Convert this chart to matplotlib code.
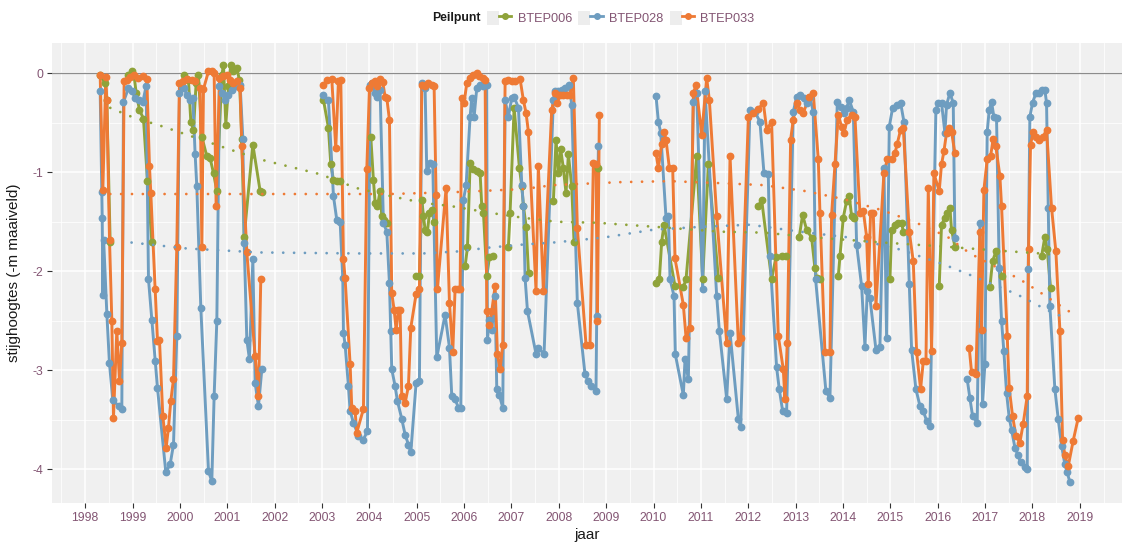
import numpy as np
import matplotlib
matplotlib.use("Agg")
import matplotlib.pyplot as plt
from matplotlib.lines import Line2D
from matplotlib.patches import Patch
from matplotlib.legend_handler import HandlerTuple

plt.rcParams['font.family'] = ['Liberation Sans', 'DejaVu Sans']
plt.rcParams['axes.unicode_minus'] = False

nan = np.nan

# --- data: jaar (decimal year) and stijghoogte (m t.o.v. maaiveld) ---
btep006_jaar = [
    1998.317, 1998.422, 1998.457, 1998.528, nan,
    1998.915, 1998.985, 1999.034, 1999.077, 1999.147, 1999.231, 1999.316, 1999.407, nan,
    2000.090, 2000.181, 2000.231, 2000.287, 2000.343, 2000.392, 2000.463, 2000.569, 2000.639,
    2000.710, 2000.780, 2000.885, 2000.920, 2000.970, 2001.026, 2001.075, 2001.131, 2001.202,
    2001.258, 2001.307, 2001.357, 2001.540, 2001.694, 2001.730, nan,
    2003.031, 2003.136, 2003.186, 2003.242, 2003.312, 2003.383, nan,
    2004.030, 2004.086, 2004.122, 2004.171, 2004.227, 2004.262, 2004.319, 2004.368, nan,
    2004.987, 2005.057, 2005.107, 2005.142, 2005.177, 2005.226, 2005.269, 2005.318, 2005.367, nan,
    2006.021, 2006.071, 2006.127, 2006.198, 2006.268, 2006.338, 2006.373, 2006.409, 2006.479,
    2006.535, 2006.620, nan,
    2006.936, 2006.971, 2007.056, 2007.169, 2007.218, 2007.253, 2007.310, 2007.360, nan,
    2007.885, 2007.941, 2007.990, 2008.040, 2008.096, 2008.152, 2008.202, 2008.272, 2008.321, nan,
    2008.835, nan,
    2010.052, 2010.123, 2010.172, 2010.221, 2010.453, 2010.629, 2010.686, 2010.911, 2011.037,
    2011.157, 2011.368, nan,
    2012.213, 2012.283, 2012.492, 2012.584, 2012.704, 2012.795, nan,
    2013.077, 2013.147, 2013.231, 2013.337, 2013.407, 2013.442, 2013.513, nan,
    2013.900, 2013.935, 2014.005, 2014.076, 2014.132, 2014.181, 2014.231, nan,
    2014.991, 2015.026, 2015.096, 2015.167, 2015.237, 2015.272, nan,
    2016.031, 2016.080, 2016.151, 2016.200, 2016.256, 2016.291, 2016.362, nan,
    2017.101, 2017.157, 2017.227, 2017.347, nan,
    2018.192, 2018.262, 2018.311, 2018.382,
]
btep006_stijg = [
    -0.02, -0.10, -0.27, -1.70, nan,
    -0.02, 0.02, -0.03, -0.20, -0.37, -0.46, -1.09, -1.70, nan,
    -0.02, -0.07, -0.49, -0.57, -0.10, -0.02, -0.64, -0.84, -0.86,
    -1.01, -1.19, -0.02, 0.08, -0.52, -0.13, 0.08, 0.02, 0.05,
    -0.07, -0.66, -1.65, -0.72, -1.19, -1.20, nan,
    -0.27, -0.55, -0.92, -1.08, -1.09, -1.09, nan,
    -0.64, -1.08, -1.31, -1.34, -1.19, -1.44, -1.48, -1.51, nan,
    -2.05, -2.05, -1.28, -1.44, -1.58, -1.60, -1.41, -1.38, -1.50, nan,
    -1.95, -1.76, -0.91, -0.97, -0.99, -1.01, -1.34, -1.41, -2.05,
    -1.86, -1.85, nan,
    -1.75, -1.41, -0.35, -0.96, -1.14, -1.34, -1.55, -2.02, nan,
    -1.29, -0.67, -1.01, -0.77, -0.96, -1.21, -0.82, -1.14, -1.70, nan,
    -0.96, nan,
    -2.12, -2.08, -1.70, -1.53, -2.15, -2.16, -2.08, -0.84, -2.08,
    -0.92, -2.07, nan,
    -1.34, -1.28, -2.08, -1.86, -1.85, -1.85, nan,
    -1.65, -1.43, -1.58, -1.66, -1.97, -2.07, -2.08, nan,
    -2.05, -1.85, -1.46, -1.29, -1.24, -1.44, -1.46, nan,
    -2.08, -1.58, -1.53, -1.51, -1.51, -1.60, nan,
    -2.15, -1.53, -1.46, -1.41, -1.36, -1.58, -1.75, nan,
    -2.16, -1.90, -1.80, -2.05, nan,
    -1.85, -1.65, -1.78, -2.17,
]

btep028_jaar = [
    1998.317, 1998.350, 1998.360, 1998.374, 1998.390, 1998.458, 1998.513, 1998.584, 1998.704,
    1998.774, 1998.809, 1998.915, 1998.985, 1999.056, 1999.147, 1999.217, 1999.288, 1999.337,
    1999.407, 1999.478, 1999.527, 1999.703, 1999.794, 1999.865, 1999.935, 1999.991, 2000.041,
    2000.090, 2000.146, 2000.217, 2000.273, 2000.322, 2000.357, 2000.442, 2000.604, 2000.674,
    2000.723, 2000.780, 2000.836, 2000.885, 2000.956, 2001.026, 2001.096, 2001.188, 2001.272,
    2001.329, 2001.357, 2001.413, 2001.469, 2001.540, 2001.589, 2001.659, 2001.730, nan,
    2003.031, 2003.136, 2003.242, 2003.312, 2003.383, 2003.439, 2003.453, 2003.488, 2003.558,
    2003.594, 2003.664, 2003.770, 2003.875, 2003.960, 2004.016, 2004.051, 2004.122, 2004.171,
    2004.227, 2004.297, 2004.368, 2004.424, 2004.452, 2004.473, 2004.544, 2004.593, 2004.684,
    2004.755, 2004.825, 2004.875, 2004.987, 2005.057, 2005.107, 2005.177, 2005.212, 2005.283,
    2005.339, 2005.423, 2005.599, 2005.691, 2005.740, 2005.810, 2005.881, 2005.930, 2005.986,
    2006.043, 2006.127, 2006.162, 2006.212, 2006.268, 2006.338, 2006.409, 2006.479, 2006.493,
    2006.535, 2006.585, 2006.655, 2006.690, 2006.746, 2006.817, 2006.866, 2006.936, 2007.007,
    2007.056, 2007.148, 2007.218, 2007.253, 2007.288, 2007.338, 2007.521, 2007.568, 2007.688,
    2007.885, 2007.920, 2007.990, 2008.061, 2008.131, 2008.223, 2008.272, 2008.391, 2008.553,
    2008.624, 2008.673, 2008.785, 2008.800, 2008.835, nan,
    2010.052, 2010.102, 2010.151, 2010.263, 2010.313, 2010.348, 2010.432, 2010.460, 2010.629,
    2010.664, 2010.735, 2010.840, 2010.911, 2011.037, 2011.087, 2011.333, 2011.389, 2011.544,
    2011.615, 2011.790, 2011.840, 2012.035, 2012.141, 2012.246, 2012.331, 2012.422, 2012.457,
    2012.598, 2012.654, 2012.725, 2012.809, 2012.950, 2013.020, 2013.091, 2013.175, 2013.231,
    2013.302, 2013.372, 2013.421, 2013.639, 2013.724, 2013.879, 2013.949, 2014.020, 2014.076,
    2014.132, 2014.217, 2014.287, 2014.393, 2014.463, 2014.512, 2014.568, 2014.695, 2014.779,
    2014.864, 2014.920, 2014.977, 2015.047, 2015.131, 2015.216, 2015.286, 2015.399, 2015.448,
    2015.539, 2015.624, 2015.694, 2015.765, 2015.835, 2015.961, 2016.010, 2016.080, 2016.151,
    2016.186, 2016.256, 2016.327, 2016.362, nan,
    2016.622, 2016.678, 2016.735, 2016.833, 2016.890, 2016.946, 2016.995, 2017.044, 2017.087,
    2017.136, 2017.185, 2017.241, 2017.298, 2017.347, 2017.396, 2017.453, 2017.509, 2017.558,
    2017.629, 2017.699, 2017.748, 2017.840, 2017.889, 2017.910, 2017.945, 2018.001, 2018.072,
    2018.142, 2018.192, 2018.262, 2018.297, 2018.332, 2018.367, 2018.473, 2018.543, 2018.614,
    2018.684, 2018.733, 2018.790,
]
btep028_stijg = [
    -0.18, -1.20, -1.46, -2.24, -1.68, -2.43, -2.93, -3.30, -3.36,
    -3.39, -0.29, -0.15, -0.18, -0.25, -0.27, -0.29, -0.13, -2.08,
    -2.49, -2.91, -3.18, -4.03, -3.95, -3.75, -2.65, -0.20, -0.13,
    -0.15, -0.22, -0.27, -0.25, -0.82, -1.14, -2.37, -4.02, -4.12,
    -3.26, -2.50, -0.13, -0.20, -0.27, -0.22, -0.17, -0.13, -0.12,
    -0.66, -1.71, -2.69, -2.89, -1.88, -3.13, -3.36, -2.99, nan,
    -0.22, -0.27, -1.24, -1.48, -1.50, -2.07, -2.62, -2.74, -3.16,
    -3.41, -3.53, -3.66, -3.70, -3.61, -0.12, -0.10, -0.20, -0.24,
    -0.17, -1.51, -1.60, -2.12, -2.60, -2.99, -3.16, -3.31, -3.49,
    -3.65, -3.75, -3.83, -3.13, -3.11, -0.10, -0.15, -0.99, -0.91,
    -0.92, -2.87, -2.44, -2.77, -3.26, -3.29, -3.38, -3.38, -1.28,
    -1.13, -0.44, -0.25, -0.44, -0.15, -0.12, -0.13, -0.12, -2.69,
    -2.49, -2.59, -2.25, -3.19, -3.25, -3.38, -0.27, -0.44, -0.25,
    -0.24, -0.35, -1.13, -1.34, -2.07, -2.40, -2.84, -2.77, -2.84,
    -0.27, -0.18, -0.18, -0.17, -0.15, -0.12, -0.32, -2.32, -3.04,
    -3.11, -3.16, -3.21, -2.45, -0.74, nan,
    -0.23, -0.49, -0.60, -1.46, -1.44, -2.08, -2.25, -2.84, -3.25,
    -2.89, -3.09, -0.29, -0.20, -2.18, -0.18, -2.25, -2.60, -3.29,
    -2.62, -3.49, -3.57, -0.37, -0.39, -0.49, -1.01, -1.02, -1.85,
    -2.97, -3.19, -3.41, -3.43, -0.39, -0.24, -0.22, -0.25, -0.30,
    -0.24, -0.39, -2.08, -3.21, -3.28, -0.29, -0.34, -0.40, -0.35,
    -0.27, -0.39, -1.73, -2.15, -2.76, -2.20, -2.27, -2.79, -2.76,
    -0.96, -2.67, -0.54, -0.35, -0.32, -0.30, -0.49, -2.13, -2.79,
    -3.19, -3.36, -3.41, -3.51, -3.56, -0.37, -0.30, -0.30, -0.60,
    -0.32, -0.20, -0.30, -1.66, nan,
    -3.09, -3.28, -3.46, -3.53, -1.51, -3.34, -2.94, -0.59, -0.37,
    -0.29, -0.44, -0.45, -1.97, -2.50, -2.81, -3.23, -3.48, -3.60,
    -3.78, -3.86, -3.93, -3.98, -4.00, -1.98, -0.44, -0.30, -0.20,
    -0.20, -0.17, -0.17, -0.30, -1.36, -2.35, -3.19, -3.49, -3.76,
    -3.95, -4.03, -4.13,
]

btep033_jaar = [
    1998.317, 1998.373, 1998.436, 1998.457, 1998.514, 1998.563, 1998.598, 1998.668, 1998.725,
    1998.774, 1998.823, 1998.879, 1998.950, 1999.034, 1999.126, 1999.231, 1999.302, 1999.358,
    1999.386, 1999.478, 1999.527, 1999.569, 1999.639, 1999.710, 1999.759, 1999.808, 1999.865,
    1999.935, 1999.991, 2000.076, 2000.146, 2000.252, 2000.322, 2000.428, 2000.463, 2000.498,
    2000.604, 2000.674, 2000.723, 2000.765, 2000.836, 2000.906, 2000.991, 2001.061, 2001.131,
    2001.202, 2001.272, 2001.307, 2001.413, 2001.589, 2001.659, 2001.708, nan,
    2003.031, 2003.115, 2003.207, 2003.291, 2003.347, 2003.397, 2003.453, 2003.488, 2003.594,
    2003.629, 2003.699, 2003.734, 2003.875, 2003.946, 2004.002, 2004.051, 2004.122, 2004.171,
    2004.227, 2004.283, 2004.333, 2004.368, 2004.424, 2004.473, 2004.523, 2004.565, 2004.614,
    2004.649, 2004.684, 2004.755, 2004.825, 2004.875, 2004.987, 2005.057, 2005.107, 2005.177,
    2005.247, 2005.318, 2005.367, 2005.409, 2005.437, 2005.620, 2005.691, 2005.761, 2005.810,
    2005.881, 2005.916, 2005.951, 2006.000, 2006.057, 2006.127, 2006.198, 2006.268, 2006.324,
    2006.395, 2006.444, 2006.479, 2006.535, 2006.585, 2006.655, 2006.704, 2006.761, 2006.817,
    2006.866, 2006.936, 2007.007, 2007.077, 2007.183, 2007.251, 2007.308, 2007.357, 2007.519,
    2007.568, 2007.674, 2007.850, 2007.920, 2007.969, 2008.025, 2008.096, 2008.166, 2008.237,
    2008.307, 2008.391, 2008.574, 2008.659, 2008.729, 2008.785, 2008.814, 2008.856, nan,
    2010.052, 2010.102, 2010.172, 2010.221, 2010.263, 2010.334, 2010.404, 2010.453, 2010.629,
    2010.686, 2010.770, 2010.840, 2010.897, 2011.016, 2011.122, 2011.178, 2011.333, 2011.544,
    2011.615, 2011.790, 2011.840, 2012.002, 2012.107, 2012.213, 2012.318, 2012.389, 2012.492,
    2012.633, 2012.739, 2012.774, 2012.823, 2012.894, 2012.950, 2013.020, 2013.091, 2013.161,
    2013.288, 2013.372, 2013.478, 2013.513, 2013.618, 2013.724, 2013.759, 2013.830, 2013.900,
    2013.970, 2014.020, 2014.090, 2014.181, 2014.252, 2014.357, 2014.428, 2014.498, 2014.533,
    2014.583, 2014.639, 2014.695, 2014.864, 2014.934, 2015.026, 2015.096, 2015.145, 2015.216,
    2015.272, 2015.399, 2015.483, 2015.554, 2015.638, 2015.694, 2015.751, 2015.800, 2015.870,
    2015.918, 2016.031, 2016.080, 2016.130, 2016.186, 2016.242, 2016.291, 2016.362, nan,
    2016.664, 2016.714, 2016.805, 2016.890, 2016.925, 2016.974, 2017.044, 2017.115, 2017.171,
    2017.227, 2017.312, 2017.347, 2017.467, 2017.509, 2017.579, 2017.650, 2017.734, 2017.804,
    2017.889, 2017.917, 2017.959, 2018.016, 2018.072, 2018.142, 2018.227, 2018.297, 2018.403,
    2018.494, 2018.579, 2018.635, 2018.684, 2018.754, 2018.860, 2018.966,
]
btep033_stijg = [
    -0.02, -1.18, -0.04, -0.27, -1.68, -2.50, -3.48, -2.60, -3.11,
    -2.72, -0.08, -0.07, -0.04, -0.02, -0.05, -0.03, -0.06, -0.94,
    -1.21, -2.18, -2.70, -2.69, -3.46, -3.78, -3.58, -3.31, -3.09,
    -1.75, -0.10, -0.08, -0.06, -0.07, -0.08, -0.15, -1.75, -0.16,
    0.02, 0.02, 0.00, -1.34, -0.05, -0.03, -0.02, -0.07, -0.10,
    -0.08, -0.15, -0.74, -1.81, -2.86, -3.26, -2.08, nan,
    -0.12, -0.07, -0.06, -0.76, -0.08, -0.07, -1.88, -2.07, -2.94,
    -3.38, -3.41, -3.63, -3.39, -0.97, -0.15, -0.10, -0.08, -0.13,
    -0.06, -0.09, -0.24, -0.25, -0.47, -2.22, -2.39, -2.59, -2.39,
    -2.39, -3.26, -3.33, -3.16, -2.57, -2.23, -2.18, -0.12, -0.13,
    -0.10, -0.12, -0.13, -1.23, -2.18, -1.16, -2.32, -2.82, -2.18,
    -2.18, -2.18, -0.25, -0.30, -0.10, -0.05, -0.02, -0.00, -0.03,
    -0.05, -0.07, -2.40, -2.54, -2.40, -2.15, -2.84, -2.99, -2.74,
    -0.08, -0.07, -0.08, -0.08, -0.06, -0.27, -0.40, -0.59, -2.20,
    -0.94, -2.20, -0.37, -0.20, -0.30, -0.22, -0.22, -0.22, -0.22,
    -0.05, -1.56, -2.74, -2.74, -0.91, -0.92, -2.50, -0.42, nan,
    -0.81, -0.96, -0.71, -0.59, -0.67, -0.96, -0.96, -1.87, -2.34,
    -2.67, -2.57, -0.20, -0.12, -0.62, -0.05, -0.27, -1.44, -2.72,
    -0.84, -2.72, -2.67, -0.44, -0.40, -0.36, -0.30, -0.57, -0.49,
    -2.65, -2.99, -3.29, -2.72, -0.67, -0.47, -0.30, -0.37, -0.40,
    -0.24, -0.20, -0.87, -1.41, -2.82, -2.82, -1.43, -0.92, -0.42,
    -0.54, -0.60, -0.47, -0.42, -0.44, -1.41, -1.39, -1.65, -2.13,
    -1.41, -1.41, -2.35, -1.01, -0.87, -0.87, -0.81, -0.71, -0.57,
    -0.55, -1.60, -1.90, -2.82, -3.19, -2.91, -2.91, -1.16, -2.81,
    -1.01, -1.19, -0.92, -0.79, -0.60, -0.55, -0.59, -0.81, nan,
    -2.77, -3.02, -3.04, -1.60, -2.59, -1.18, -0.87, -0.84, -0.66,
    -0.74, -1.04, -1.34, -2.65, -3.18, -3.46, -3.66, -3.73, -3.54,
    -3.26, -1.78, -0.72, -0.59, -0.64, -0.67, -0.64, -0.57, -1.36,
    -1.80, -2.60, -3.70, -3.86, -3.97, -3.71, -3.48,
]

# smoothed trends (dotted)
trend006_jaar = [1998.53, 1998.98, 1999.65, 2000.57, 2000.99, 2001.69, 2002.54, 2002.96, 2003.73,
                 2004.44, 2005.14, 2005.70, 2006.55, 2007.25, 2007.95, 2008.80, 2010.00, 2011.40,
                 2012.32, 2013.44, 2014.85, 2016.12, 2017.24, 2018.16, 2018.38]
trend006_stijg = [-0.35, -0.44, -0.54, -0.69, -0.76, -0.87, -0.97, -1.02, -1.16,
                  -1.24, -1.31, -1.34, -1.41, -1.46, -1.50, -1.51, -1.55, -1.60,
                  -1.61, -1.66, -1.71, -1.75, -1.79, -1.82, -1.83]
trend028_jaar = [1998.98, 2000.15, 2001.69, 2003.73, 2005.14, 2005.85, 2006.55, 2007.25, 2007.88,
                 2008.94, 2010.00, 2011.05, 2012.04, 2013.09, 2014.15, 2015.20, 2016.12, 2016.75,
                 2017.66, 2018.30, 2018.68]
trend028_stijg = [-1.71, -1.77, -1.81, -1.82, -1.82, -1.80, -1.76, -1.73, -1.71,
                  -1.66, -1.58, -1.55, -1.53, -1.60, -1.66, -1.78, -1.93, -2.05,
                  -2.23, -2.39, -2.47]
trend033_jaar = [1998.53, 2002.75, 2004.44, 2005.85, 2007.25, 2007.88, 2009.30, 2010.35, 2011.40,
                 2012.32, 2013.20, 2014.00, 2014.80, 2015.50, 2016.20, 2016.68, 2017.73, 2018.12,
                 2018.72, 2018.93]
trend033_stijg = [-1.22, -1.22, -1.22, -1.20, -1.17, -1.13, -1.10, -1.09, -1.11,
                  -1.13, -1.19, -1.27, -1.38, -1.50, -1.65, -1.82, -2.08, -2.20,
                  -2.39, -2.45]

namen = ["BTEP006", "BTEP028", "BTEP033"]
kleuren = ["#8FA33A", "#6E9DC0", "#EE7A35"]
reeksen = [(btep006_jaar, btep006_stijg), (btep028_jaar, btep028_stijg), (btep033_jaar, btep033_stijg)]
trends = [(trend006_jaar, trend006_stijg), (trend028_jaar, trend028_stijg), (trend033_jaar, trend033_stijg)]

tekst_kleur = "#835573"

fig = plt.figure(figsize=(11.23, 5.52), dpi=100)
ax = fig.add_axes([52 / 1123, 1 - 503 / 552, 1070 / 1123, 460 / 552])
ax.set_facecolor("#F0F0F0")

ax.axhline(0, color="#8c8c8c", lw=0.9, zorder=1)

for (x, y), c in zip(reeksen, kleuren):
    ax.plot(x, y, color=c, lw=2.1, zorder=2, solid_joinstyle="round")
for (x, y), c in zip(reeksen, kleuren):
    ax.plot(x, y, ls="none", marker="o", ms=4.6, color=c, zorder=3)
for (x, y), c in zip(trends, kleuren):
    ax.plot(x, y, color=c, lw=2.0, ls=(0, (0.01, 3.9)), dash_capstyle="round", zorder=4)

ax.set_xlim(1997.30, 2019.89)
ax.set_ylim(-4.34, 0.305)
ax.set_xticks(range(1998, 2020))
ax.set_xticks(np.arange(1997.5, 2020, 1.0), minor=True)
ax.set_yticks([0, -1, -2, -3, -4])
ax.set_yticks([-0.5, -1.5, -2.5, -3.5], minor=True)
ax.grid(which="major", color="white", lw=1.1)
ax.grid(which="minor", color="white", lw=0.55)
ax.set_axisbelow(True)
for s in ax.spines.values():
    s.set_visible(False)
ax.tick_params(which="major", length=3.5, width=0.8, color="#333333",
               labelsize=8.8, labelcolor=tekst_kleur, pad=3)
ax.tick_params(which="minor", length=0)

ax.set_xlabel("jaar", fontsize=11, color="#1a1a1a", labelpad=3)
ax.set_ylabel("stijghoogtes (-m maaiveld)", fontsize=11, color="#1a1a1a", labelpad=8)

# legend on top
fig.text(432 / 1123, 1 - 18 / 552, "Peilpunt", fontsize=8.8, fontweight="bold",
         color="#1a1a1a", ha="left", va="center")
handles = [(Patch(facecolor="#EDEDED", edgecolor="none"),
            Line2D([], [], color=c, lw=2.0, marker="o", ms=4.0)) for c in kleuren]
leg = fig.legend(handles, namen, ncol=3, loc="center left",
                 bbox_to_anchor=(487 / 1123, 1 - 18 / 552), frameon=False,
                 fontsize=9.2, handlelength=1.9, handleheight=1.4, handletextpad=0.5,
                 columnspacing=0.5, borderpad=0, borderaxespad=0,
                 handler_map={tuple: HandlerTuple(ndivide=None)})
for t in leg.get_texts():
    t.set_color(tekst_kleur)

fig.savefig("out.png", dpi=100)
